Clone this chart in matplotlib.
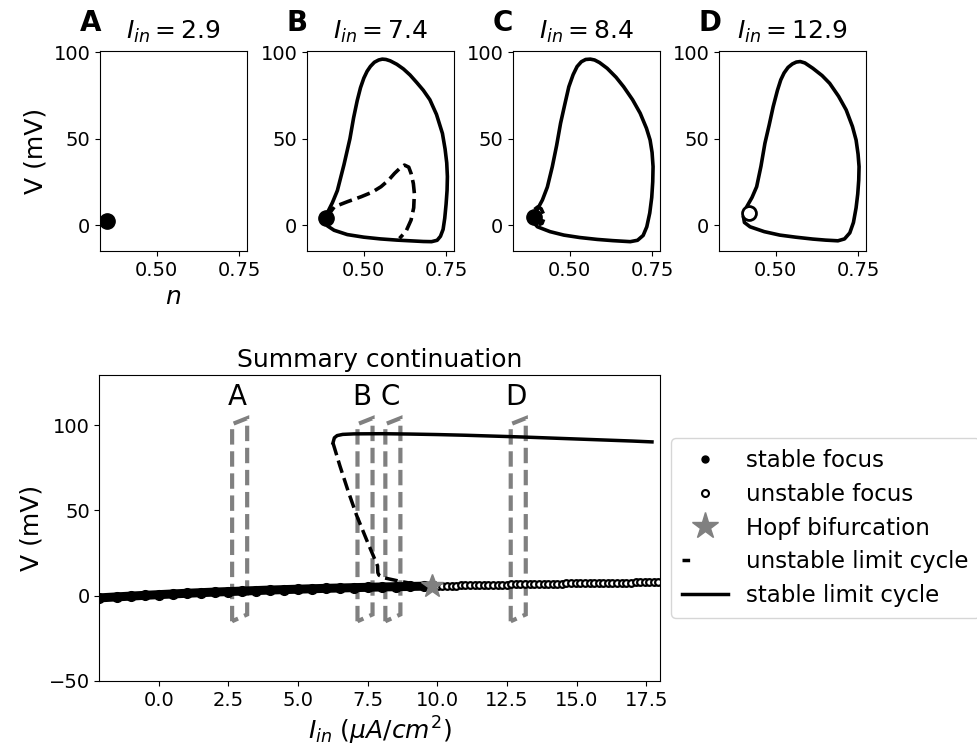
import matplotlib
matplotlib.use("Agg")
import matplotlib.pyplot as plt
from matplotlib.lines import Line2D
from matplotlib.patches import Polygon

# currents used for the four phase portraits
panel_letters = ["A", "B", "C", "D"]
panel_currents = [2.9, 7.4, 8.4, 12.9]

# equilibrium point shown in each portrait (n, V) and whether it is stable
fixed_n = [0.350, 0.386, 0.392, 0.420]
fixed_v = [2.3, 4.2, 4.8, 6.8]
fixed_stable = [True, True, True, False]

# stable limit cycles in the (n, V) plane
cycle_b_n = [0.385, 0.392, 0.405, 0.420, 0.440, 0.458, 0.469, 0.480, 0.490, 0.500, 0.510,
             0.520, 0.532, 0.545, 0.556, 0.567, 0.580, 0.600, 0.620, 0.640, 0.660, 0.680,
             0.700, 0.720, 0.738, 0.746, 0.751, 0.753, 0.752, 0.749, 0.745, 0.740, 0.732,
             0.722, 0.705, 0.680, 0.650, 0.600, 0.550, 0.500, 0.450, 0.410, 0.390, 0.382,
             0.385]
cycle_b_v = [4.5, 8.0, 13.0, 20.0, 35.0, 50.0, 62.0, 72.0, 79.5, 85.0, 89.0,
             91.8, 94.2, 95.5, 96.0, 95.8, 95.0, 93.0, 90.3, 86.8, 82.5, 78.0,
             72.5, 64.0, 53.0, 44.0, 36.0, 28.0, 20.0, 12.0, 4.0, -2.5, -6.5,
             -8.8, -9.6, -9.5, -9.2, -8.7, -8.0, -7.0, -5.5, -3.0, -0.5, 2.0,
             4.5]

cycle_c_n = [0.385, 0.400, 0.417, 0.432, 0.447, 0.460, 0.472, 0.485, 0.497, 0.510, 0.522,
             0.535, 0.548, 0.562, 0.575, 0.590, 0.613, 0.640, 0.663, 0.690, 0.713, 0.732,
             0.743, 0.749, 0.752, 0.751, 0.748, 0.742, 0.733, 0.722, 0.705, 0.683, 0.630,
             0.583, 0.530, 0.482, 0.440, 0.402, 0.388, 0.385]
cycle_c_v = [5.0, 8.5, 14.5, 22.0, 33.8, 46.0, 58.9, 70.0, 80.0, 87.0, 91.7,
             94.5, 95.8, 96.0, 95.5, 94.0, 90.7, 85.5, 80.0, 72.5, 64.7, 56.0,
             49.2, 42.0, 33.8, 25.0, 16.0, 7.0, -1.0, -6.0, -8.8, -9.6, -9.0,
             -8.3, -7.2, -5.8, -3.8, -1.0, 2.0, 5.0]

cycle_d_n = [0.402, 0.412, 0.428, 0.442, 0.455, 0.467, 0.480, 0.492, 0.505, 0.515, 0.525,
             0.537, 0.550, 0.562, 0.574, 0.588, 0.612, 0.640, 0.663, 0.690, 0.713, 0.732,
             0.743, 0.749, 0.752, 0.751, 0.748, 0.743, 0.735, 0.724, 0.708, 0.688, 0.650,
             0.612, 0.560, 0.512, 0.465, 0.422, 0.405, 0.402]
cycle_d_v = [4.8, 10.6, 16.0, 22.2, 34.0, 47.3, 58.0, 68.5, 78.0, 84.0, 88.0,
             91.2, 93.2, 94.3, 94.6, 93.8, 90.7, 86.5, 82.0, 74.5, 66.6, 57.0,
             49.2, 41.0, 33.8, 26.0, 18.0, 10.0, 1.5, -4.5, -8.0, -9.1, -8.7,
             -8.1, -7.0, -5.8, -3.8, -1.0, 1.5, 4.8]

# unstable limit cycles around the equilibrium (B is large, C is tiny)
ucycle_b_n = [0.386, 0.411, 0.450, 0.492, 0.525, 0.552, 0.575, 0.593, 0.610, 0.623,
              0.636, 0.643, 0.650, 0.653, 0.651, 0.643, 0.628, 0.608]
ucycle_b_v = [4.2, 10.6, 13.5, 16.4, 19.0, 22.2, 26.0, 29.9, 33.0, 34.7,
              33.5, 29.9, 24.0, 18.4, 10.0, 2.9, -3.5, -7.7]
ucycle_c_n = [0.393, 0.403, 0.413, 0.420, 0.421, 0.416, 0.406]
ucycle_c_v = [9.0, 10.5, 9.5, 6.5, 3.5, 1.0, 0.2]

# continuation: equilibrium branch, stable part
focus_s_i = [-2.13, -1.5, -1.0, -0.5, 0.0, 0.5, 1.0, 1.5, 2.0, 2.5, 3.0, 3.5, 4.0,
             4.5, 5.0, 5.5, 6.0, 6.5, 7.0, 7.5, 8.0, 8.5, 9.0, 9.5, 9.82]
focus_s_v = [-1.3, -0.7, -0.25, 0.2, 0.6, 1.0, 1.4, 1.75, 2.1, 2.4, 2.7, 3.0, 3.3,
             3.55, 3.8, 4.05, 4.3, 4.5, 4.7, 4.9, 5.1, 5.25, 5.4, 5.55, 5.65]

# equilibrium branch, unstable part
focus_u_i = [9.85, 10.01, 10.18, 10.34, 10.51, 10.67, 10.84, 11.00, 11.17, 11.33,
             11.50, 11.66, 11.83, 11.99, 12.16, 12.32, 12.49, 12.65, 12.82, 12.98,
             13.15, 13.31, 13.48, 13.64, 13.81, 13.97, 14.14, 14.30, 14.47, 14.63,
             14.80, 14.96, 15.13, 15.29, 15.46, 15.62, 15.79, 15.95, 16.12, 16.28,
             16.45, 16.61, 16.78, 16.94, 17.11, 17.27, 17.44, 17.60, 17.77, 17.93]
focus_u_v = [5.70, 5.75, 5.80, 5.85, 5.90, 5.95, 6.00, 6.05, 6.10, 6.15,
             6.20, 6.25, 6.30, 6.35, 6.40, 6.45, 6.50, 6.55, 6.60, 6.65,
             6.70, 6.75, 6.80, 6.85, 6.90, 6.95, 7.00, 7.05, 7.10, 7.15,
             7.15, 7.20, 7.25, 7.30, 7.35, 7.40, 7.40, 7.45, 7.50, 7.55,
             7.60, 7.65, 7.65, 7.70, 7.75, 7.80, 7.85, 7.85, 7.90, 7.95]

hopf_i = 9.82
hopf_v = 5.9

# max V of the limit cycles along the continuation
lc_stable_i = [6.25, 6.30, 6.40, 6.60, 7.00, 8.00, 9.00, 10.0, 11.0, 12.0,
               13.0, 14.0, 15.0, 16.0, 17.0, 17.7]
lc_stable_v = [89.5, 92.5, 93.8, 94.5, 94.8, 94.9, 94.7, 94.4, 94.0, 93.5,
               93.0, 92.4, 91.8, 91.2, 90.6, 90.1]
lc_unstable_i = [6.25, 6.50, 6.80, 7.10, 7.50, 7.85, 7.86, 7.90, 8.10, 8.60, 9.20, 9.82]
lc_unstable_v = [89.5, 76.0, 61.0, 47.0, 31.0, 17.5, 13.5, 12.0, 10.4, 8.6, 6.8, 6.0]

cycles = [None, (cycle_b_n, cycle_b_v), (cycle_c_n, cycle_c_v), (cycle_d_n, cycle_d_v)]
ucycles = [None, (ucycle_b_n, ucycle_b_v), (ucycle_c_n, ucycle_c_v), None]

W, H = 978, 754
fig = plt.figure(figsize=(W / 100, H / 100), dpi=100)

def px_axes(left, top, width, height):
    return fig.add_axes([left / W, 1 - (top + height) / H, width / W, height / H])

tops = [100, 307, 513, 719]
for k in range(4):
    ax = px_axes(tops[k], 51, 147, 200)
    if cycles[k] is not None:
        ax.plot(cycles[k][0], cycles[k][1], color="k", lw=2.6,
                solid_joinstyle="round", solid_capstyle="round")
    if ucycles[k] is not None:
        ax.plot(ucycles[k][0], ucycles[k][1], color="k", lw=2.6, ls="--")
    if fixed_stable[k]:
        ax.plot(fixed_n[k], fixed_v[k], "o", color="k", ms=11)
    else:
        ax.plot(fixed_n[k], fixed_v[k], "o", mfc="white", mec="k", mew=2, ms=10)
    ax.set_xlim(0.328, 0.773)
    ax.set_ylim(-15, 100.7)
    ax.set_xticks([0.5, 0.75])
    ax.set_xticklabels(["0.50", "0.75"])
    ax.set_yticks([0, 50, 100])
    ax.tick_params(labelsize=14)
    ax.set_title(r"$I_{in} = %s$" % panel_currents[k], fontsize=18, pad=9)
    ax.text(-0.14, 1.1, panel_letters[k], transform=ax.transAxes,
            fontsize=20, fontweight="bold", ha="left", va="baseline")
    if k == 0:
        ax.set_xlabel(r"$n$", fontsize=18)
        ax.set_ylabel("V (mV)", fontsize=18)

# summary of the continuation
ax = px_axes(99.5, 375, 560, 306)
for k in range(4):
    c = panel_currents[k]
    box = Polygon([(c - 0.27, -15), (c - 0.27, 100.5), (c + 0.27, 104),
                   (c + 0.27, -11)], closed=True, fill=False,
                  edgecolor="gray", lw=3, ls="--")
    ax.add_patch(box)
    ax.text(c - 0.1, 112, panel_letters[k], fontsize=20, ha="center", va="baseline")

ax.plot(focus_s_i, focus_s_v, "o-", color="k", ms=7, lw=6.5)
ax.plot(focus_u_i, focus_u_v, "o", mfc="white", mec="k", mew=1.6, ms=4.8, ls="none")
ax.plot(lc_unstable_i, lc_unstable_v, color="k", lw=2.5, ls="--")
ax.plot(lc_stable_i, lc_stable_v, color="k", lw=2.5)
ax.plot(hopf_i, hopf_v, "*", color="gray", ms=17, zorder=5)

ax.set_xlim(-2.13, 17.97)
ax.set_ylim(-50, 129.3)
ax.set_yticks([-50, 0, 50, 100])
ax.tick_params(labelsize=14)
ax.set_title("Summary continuation", fontsize=18)
ax.set_xlabel(r"$I_{in}$ $(\mu A/cm^2)$", fontsize=18)
ax.set_ylabel("V (mV)", fontsize=18)

handles = [
    Line2D([], [], ls="none", marker="o", color="k", ms=5),
    Line2D([], [], ls="none", marker="o", mfc="white", mec="k", mew=1.5, ms=5),
    Line2D([], [], ls="none", marker="*", color="gray", ms=20),
    Line2D([], [], color="k", lw=2.5, ls=(0, (2.2, 30))),
    Line2D([], [], color="k", lw=2.5),
]
labels = ["stable focus", "unstable focus", "Hopf bifurcation",
          "unstable limit cycle", "stable limit cycle"]
ax.legend(handles, labels, loc="center left", bbox_to_anchor=(1.0, 0.5),
          fontsize=16.5, labelspacing=0.47, borderpad=0.47)

fig.savefig("out.png", dpi=100)
